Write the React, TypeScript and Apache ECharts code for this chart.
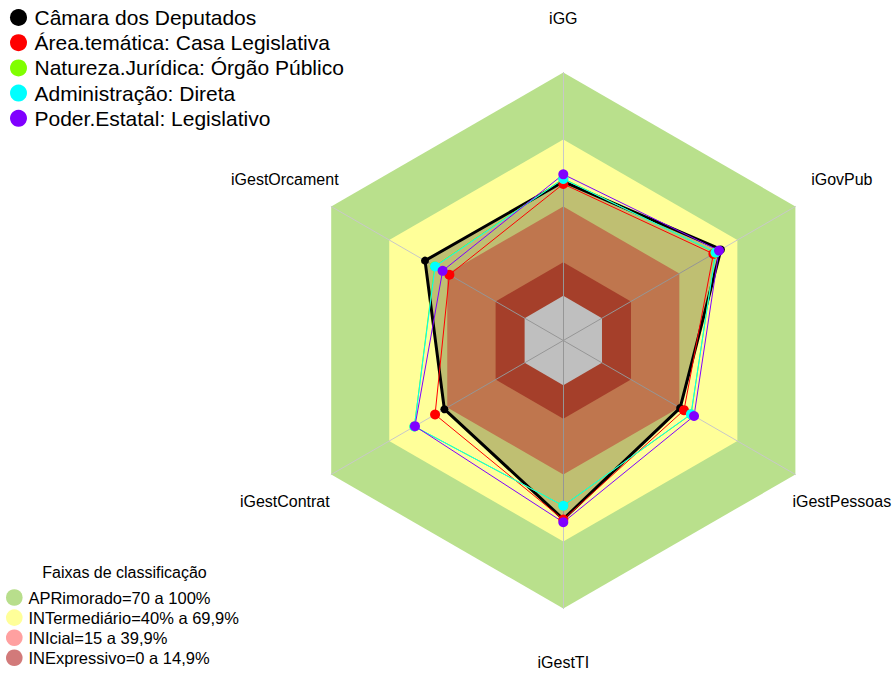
import React, { useEffect, useRef } from "react";
import * as echarts from "echarts";

// Indicators listed counter-clockwise from the top (ECharts radar order)
const categories = ["iGG", "iGestOrcament", "iGestContrat", "iGestTI", "iGestPessoas", "iGovPub"];

const seriesNames = [
  "Câmara dos Deputados",
  "Área.temática: Casa Legislativa",
  "Natureza.Jurídica: Órgão Público",
  "Administração: Direta",
  "Poder.Estatal: Legislativo",
];
const camara = [51.1, 51.5, 41.5, 60.0, 40.4, 61.5];
const areaTematica = [50.1, 38.9, 46.3, 60.2, 42.4, 57.6];
const natureza = [52.5, 46.5, 57.0, 54.0, 46.1, 58.6];
const administracao = [52.3, 46.3, 57.0, 54.0, 46.0, 58.8];
const poder = [54.4, 42.4, 56.7, 61.4, 47.6, 60.5];
const seriesValues = [camara, areaTematica, natureza, administracao, poder];
const seriesColors = ["#000000", "#FF0000", "#80FF00", "#00FFFF", "#8000FF"];

const bandNames = [
  "APRimorado=70 a 100%",
  "INTermediário=40% a 69,9%",
  "INIcial=15 a 39,9%",
  "INExpressivo=0 a 14,9%",
];
const bandUpper = [100, 70, 40, 15];
const bandFill = ["#B9E08C", "#FFFF99", "#FF9E68", "#DC5539"];
const bandLegend = ["#B8DE8C", "#FFFF99", "#FFA0A0", "#D27A7A"];

const axisMin = -20;
const axisMax = 100;
const FONT = "'Liberation Sans', Arial, sans-serif";

export default function App() {
  const ref = useRef<HTMLDivElement>(null);
  useEffect(() => {
    if (!ref.current) return;
    const chart = echarts.init(ref.current, undefined, { renderer: "svg" });
    const cx = 563.3;
    const cy = 340.5;
    const R = 268;
    const labelR = R * 1.2;

    const bandSeries: any[] = bandNames.map((name, i) => ({
      type: "radar",
      name,
      z: 0,
      silent: true,
      symbol: "none",
      lineStyle: { width: 0, opacity: 0 },
      itemStyle: { color: bandLegend[i] },
      areaStyle: { color: bandFill[i], opacity: 1 },
      data: [{ value: categories.map(() => bandUpper[i]) }],
    }));
    bandSeries.push({
      type: "radar",
      name: "core",
      z: 0,
      silent: true,
      symbol: "none",
      lineStyle: { width: 0, opacity: 0 },
      itemStyle: { color: "#FFFFFF" },
      areaStyle: { color: "#FFFFFF", opacity: 1 },
      data: [{ value: categories.map(() => 0) }],
    });

    const dataSeries = seriesNames.map((name, i) => ({
      type: "radar",
      name,
      z: 2,
      symbol: "circle",
      symbolSize: i === 0 ? 8 : 10,
      lineStyle: { color: seriesColors[i], width: i === 0 ? 3 : 1 },
      itemStyle: { color: seriesColors[i], borderWidth: 0 },
      areaStyle: i === 0 ? { color: "rgba(0,0,0,0.25)", opacity: 1 } : undefined,
      data: [{ value: seriesValues[i], name }],
    }));

    const labels = categories.map((name, i) => {
      const ang = Math.PI / 2 + (i * 2 * Math.PI) / categories.length;
      return {
        type: "text",
        x: cx + labelR * Math.cos(ang),
        y: cy - labelR * Math.sin(ang),
        style: {
          text: name,
          align: "center",
          verticalAlign: "middle",
          fontSize: 16,
          fontFamily: FONT,
          fill: "#000",
        },
      };
    });

    chart.setOption({
      animation: false,
      backgroundColor: "#FFFFFF",
      radar: {
        center: [cx, cy],
        radius: R,
        startAngle: 90,
        shape: "polygon",
        splitNumber: 6,
        z: 1,
        indicator: categories.map((name) => ({ name, min: axisMin, max: axisMax })),
        axisName: { show: false },
        splitLine: { show: false },
        splitArea: { show: false },
        axisTick: { show: false },
        axisLabel: { show: false },
        axisLine: { lineStyle: { color: "#C8C8C8", width: 1 } },
      },
      legend: [
        {
          orient: "vertical",
          left: 10,
          top: 7,
          padding: 0,
          icon: "circle",
          itemWidth: 22,
          itemHeight: 17,
          itemGap: 4.2,
          selectedMode: false,
          textStyle: { fontSize: 21, fontFamily: FONT, color: "#000" },
          data: seriesNames.map((name, i) => ({
            name,
            itemStyle: { color: seriesColors[i], borderWidth: 0 },
          })),
        },
        {
          orient: "vertical",
          left: 6,
          top: 589,
          padding: 0,
          icon: "circle",
          itemWidth: 18.3,
          itemHeight: 16.6,
          itemGap: 3.1,
          selectedMode: false,
          textStyle: { fontSize: 16.5, fontFamily: FONT, color: "#000" },
          data: bandNames.map((name, i) => ({
            name,
            itemStyle: { color: bandLegend[i], borderWidth: 0 },
          })),
        },
      ],
      graphic: [
        ...labels,
        {
          type: "text",
          x: 124.5,
          y: 572,
          style: {
            text: "Faixas de classificação",
            align: "center",
            verticalAlign: "middle",
            fontSize: 16,
            fontFamily: FONT,
            fill: "#000",
          },
        },
      ],
      series: [...bandSeries, ...dataSeries],
    });
    return () => chart.dispose();
  }, []);
  return (
    <div
      ref={ref}
      style={{ position: "fixed", left: 0, top: 0, width: 896, height: 674, background: "#fff" }}
    />
  );
}
